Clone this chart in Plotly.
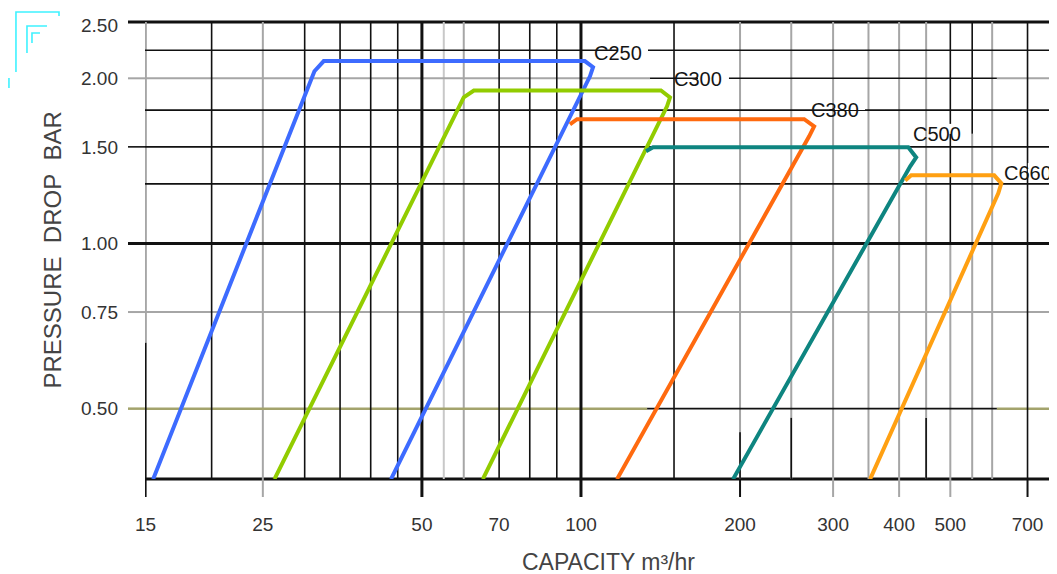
import math
import plotly.graph_objects as go

# ---------------- data ----------------
series_names = ["C250", "C300", "C380", "C500", "C660"]
series_colors = ["#3d6bff", "#92cc00", "#ff6a0f", "#0e8580", "#ffa012"]

c250_x = [15.5, 31.3, 32.6, 101.7, 105.4, 104.0, 43.7]
c250_y = [0.372, 2.06, 2.15, 2.15, 2.095, 2.017, 0.372]
c300_x = [26.3, 60.0, 62.7, 141.7, 147.4, 145.5, 65.2]
c300_y = [0.372, 1.846, 1.90, 1.90, 1.846, 1.778, 0.372]
c380_x = [95.3, 98.3, 264.5, 276.2, 270.3, 117.0]
c380_y = [1.649, 1.685, 1.685, 1.635, 1.568, 0.372]
c500_x = [132.8, 136.9, 416.3, 430.9, 419.8, 194.0]
c500_y = [1.472, 1.497, 1.497, 1.435, 1.382, 0.372]
c660_x = [410.8, 421.7, 605.4, 624.5, 616.2, 352.5]
c660_y = [1.303, 1.331, 1.331, 1.287, 1.234, 0.372]

label_x = [117.5, 166.5, 302.5, 471.7, 701.0]
label_y = [2.224, 1.994, 1.751, 1.584, 1.344]

x_tickvals = [15, 25, 50, 70, 100, 200, 300, 400, 500, 700]
x_ticktext = ["15", "25", "50", "70", "100", "200", "300", "400", "500", "700"]
y_tickvals = [0.5, 0.75, 1.0, 1.5, 2.0, 2.5]
y_ticktext = ["0.50", "0.75", "1.00", "1.50", "2.00", "2.50"]

x_grid_black = [20, 30, 35, 40, 45, 70, 80, 90, 150, 700]
x_grid_thick = [50, 100]
x_grid_gray = [25, 60, 200, 250, 300, 350, 400, 450, 600]
x_grid_light = [55]
y_grid_black = [2.25, 1.75, 1.5, 1.284]

X_MIN, X_MAX = 14.96, 789.0
Y_MIN, Y_MAX = 0.3722, 2.533

BLACK = "#111111"
GRAY = "#a6a6a6"
LIGHT = "#c8c8c8"
OLIVE = "#a3a36c"
FONT = "Arial, Liberation Sans, sans-serif"

PLOT_W, PLOT_H = 910, 457
PAGE_OFF = 8  # default body margin of the html page

fig = go.Figure()

xs = [c250_x, c300_x, c380_x, c500_x, c660_x]
ys = [c250_y, c300_y, c380_y, c500_y, c660_y]
for name, color, x, y in zip(series_names, series_colors, xs, ys):
    fig.add_trace(go.Scatter(x=x, y=y, mode="lines", name=name,
                             line=dict(color=color, width=4),
                             hoverinfo="skip", showlegend=False))

shapes = []


def seg(x0, x1, y0, y1, color, width, xref="x", yref="y"):
    shapes.append(dict(type="line", xref=xref, yref=yref, x0=x0, x1=x1,
                       y0=y0, y1=y1, line=dict(color=color, width=width),
                       layer="below"))


# gray / light vertical grid
for v in x_grid_light:
    seg(v, v, Y_MIN, Y_MAX, LIGHT, 2)
for v in x_grid_gray:
    seg(v, v, Y_MIN, Y_MAX, GRAY, 2)
seg(500, 500, Y_MIN, 1.0, GRAY, 2)
seg(550, 550, Y_MIN, 1.584, GRAY, 2)
seg(15, 15, 0.659, Y_MAX, GRAY, 2.5)

# gray / olive horizontal grid
seg(X_MIN, X_MAX, 0.75, 0.75, GRAY, 2)
seg(X_MIN, 135.1, 2.0, 2.0, GRAY, 2)
seg(612.4, X_MAX, 2.0, 2.0, GRAY, 2)
seg(X_MIN, 133.4, 0.5, 0.5, OLIVE, 2.5)
seg(612.4, X_MAX, 0.5, 0.5, OLIVE, 2.5)

# black grid
for v in x_grid_black:
    seg(v, v, Y_MIN, Y_MAX, BLACK, 1.6)
seg(500, 500, 1.0, Y_MAX, BLACK, 1.6)
seg(550, 550, 1.584, Y_MAX, BLACK, 1.6)
seg(200, 200, Y_MIN, 0.453, BLACK, 1.6)
seg(250, 250, Y_MIN, 0.481, BLACK, 1.6)
seg(450, 450, Y_MIN, 0.481, BLACK, 1.6)
seg(15, 15, Y_MIN, 0.659, BLACK, 2)
for v in y_grid_black:
    seg(X_MIN, X_MAX, v, v, BLACK, 1.6)
seg(135.1, 612.4, 2.0, 2.0, BLACK, 1.6)
seg(133.4, 612.4, 0.5, 0.5, BLACK, 1.6)
for v in x_grid_thick:
    seg(v, v, Y_MIN, Y_MAX, BLACK, 3)
seg(X_MIN, X_MAX, 1.0, 1.0, BLACK, 3)

# white boxes behind the series labels
mask_w = [30, 31, 30, 29, 27]
for lx, ly, w in zip(label_x, label_y, mask_w):
    shapes.append(dict(type="rect", xref="x", yref="y",
                       xsizemode="pixel", ysizemode="pixel",
                       xanchor=lx, yanchor=ly, x0=-w, x1=w, y0=-10, y1=10,
                       fillcolor="white", line=dict(width=0), layer="below"))

# frame
seg(-17 / PLOT_W, 1, 1, 1, BLACK, 3, xref="paper", yref="paper")
seg(0, 1, 0, 0, BLACK, 3, xref="paper", yref="paper")
seg(1, 1, 0, 1, BLACK, 2, xref="paper", yref="paper")

# outside tick marks
tick_len_x = 18 / PLOT_H
for v, c, w in [(15, BLACK, 2), (25, GRAY, 2), (50, BLACK, 3), (100, BLACK, 3),
                (200, BLACK, 2), (300, GRAY, 2), (400, GRAY, 2), (500, GRAY, 2),
                (700, BLACK, 2)]:
    seg(v, v, 0, -tick_len_x, c, w, xref="x", yref="paper")
tick_len_y = 17 / PLOT_W
for v, c, w in [(2.0, GRAY, 2), (1.5, BLACK, 1.6), (1.0, BLACK, 3),
                (0.75, GRAY, 2), (0.5, OLIVE, 2.5)]:
    seg(-tick_len_y, 0, v, v, c, w, xref="paper", yref="y")

# cyan corner decoration (top-left)
CYAN = "#3ff2ff"


def px(xp, yp):
    return (xp - 145) / PLOT_W, (479 - yp) / PLOT_H


for pts in [[(16, 72), (16, 12), (59, 12), (59, 16)],
            [(27, 53), (27, 26), (47, 26)],
            [(32, 43), (32, 33), (40, 33)],
            [(9, 78), (9, 88)]]:
    conv = [px(a, b) for a, b in pts]
    path = "M " + " L ".join(f"{a:.4f},{b:.4f}" for a, b in conv)
    shapes.append(dict(type="path", xref="paper", yref="paper", path=path,
                       line=dict(color=CYAN, width=1.6), layer="above"))

annotations = []
for name, lx, ly in zip(series_names, label_x, label_y):
    annotations.append(dict(x=math.log10(lx), y=math.log10(ly), xref="x", yref="y",
                            text=name, showarrow=False, xanchor="center",
                            yanchor="middle",
                            font=dict(family=FONT, size=20, color="#151515")))

annotations.append(dict(x=(608 - 145) / PLOT_W, y=(479 - 562) / PLOT_H,
                        xref="paper", yref="paper", text="CAPACITY m³/hr",
                        showarrow=False, xanchor="center", yanchor="middle",
                        font=dict(family=FONT, size=23, color="#444444")))
annotations.append(dict(x=(52 - 145) / PLOT_W, y=0.5, xref="paper", yref="paper",
                        text="PRESSURE\u00a0 DROP\u00a0 BAR", textangle=-90,
                        showarrow=False, xanchor="center", yanchor="middle",
                        font=dict(family=FONT, size=24, color="#444444")))

fig.update_layout(
    width=1057 - PAGE_OFF, height=574 - PAGE_OFF,
    margin=dict(l=145 - PAGE_OFF, r=2, t=22 - PAGE_OFF, b=95, pad=0),
    paper_bgcolor="white", plot_bgcolor="white",
    shapes=shapes, annotations=annotations,
    xaxis=dict(type="log", range=[math.log10(X_MIN), math.log10(X_MAX)],
               tickvals=x_tickvals, ticktext=x_ticktext, showgrid=False,
               zeroline=False, showline=False, ticks="",
               ticklabelstandoff=32,
               tickfont=dict(family=FONT, size=19, color="#333333")),
    yaxis=dict(type="log", range=[math.log10(Y_MIN), math.log10(Y_MAX)],
               tickvals=y_tickvals, ticktext=y_ticktext, showgrid=False,
               zeroline=False, showline=False, ticks="",
               ticklabelstandoff=26,
               tickfont=dict(family=FONT, size=19, color="#333333")),
)

fig.write_html("out.html")
